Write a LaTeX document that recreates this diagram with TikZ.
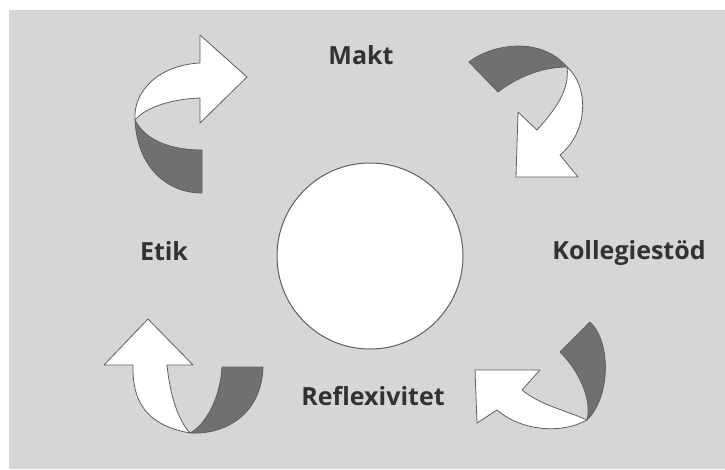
\documentclass[tikz,border=0pt]{standalone}
\usepackage{fontspec}
\setmainfont{Open Sans}
\definecolor{bggray}{RGB}{214,214,214}
\definecolor{darkpart}{RGB}{112,112,112}
\definecolor{edgegray}{RGB}{95,95,95}
\definecolor{labelgray}{RGB}{50,50,50}
\tikzset{
  lbl/.style={font=\bfseries\fontsize{25}{29}\selectfont, text=labelgray, inner sep=0pt},
  whitepart/.style={fill=white, draw=edgegray, line width=0.8pt, line join=round},
  darkribbon/.style={fill=darkpart, draw=edgegray, line width=0.8pt, line join=round},
}
\begin{document}
\begin{tikzpicture}[x=1pt,y=-1pt]
\useasboundingbox (0,0) rectangle (725,469);
\fill[white] (0,0) rectangle (725,469);
\fill[bggray] (9,10) rectangle (725,469);

% centre circle
\node[circle, draw=edgegray, line width=1pt, fill=white, minimum size=186pt, inner sep=0pt] (centre) at (370,256) {};

% labels
\node[lbl] (makt) at (361,55) {Makt};
\node[lbl] (etik) at (164,251) {Etik};
\node[lbl] (koll) at (629,253) {Kollegiestöd};
\node[lbl] (refl) at (373,396) {Reflexivitet};

% top-left arrow
\draw[darkribbon] (135,120) .. controls (137,165) and (165,193) .. (202,193) -- (202,150)
  .. controls (170,150) and (145,140) .. (135,120) -- cycle;
\draw[whitepart] (135,120) .. controls (133,90) and (160,65) .. (200,63) -- (200,35) -- (247,77)
  -- (200,123) -- (200,98) .. controls (170,99) and (145,108) .. (135,120) -- cycle;

% top-right arrow
\draw[darkribbon] (469,62) .. controls (490,45) and (540,35) .. (567,67)
  .. controls (545,67) and (520,75) .. (498,92) -- cycle;
\draw[whitepart] (567,67) .. controls (588,85) and (590,130) .. (560,155) -- (578,177) -- (516,177)
  -- (518,112) -- (537,130) .. controls (555,110) and (570,90) .. (567,67) -- cycle;

% bottom-right arrow
\draw[darkribbon] (590,322) .. controls (610,340) and (612,395) .. (587,420)
  .. controls (592,400) and (580,372) .. (560,352) -- cycle;
\draw[whitepart] (587,420) .. controls (560,435) and (520,430) .. (497,410) -- (477,423) -- (475,370)
  -- (540,370) -- (522,390) .. controls (540,405) and (565,410) .. (587,420) -- cycle;

% bottom-left arrow
\draw[darkribbon] (190,433) .. controls (230,435) and (262,410) .. (263,367) -- (222,367)
  .. controls (220,400) and (205,425) .. (190,433) -- cycle;
\draw[whitepart] (190,433) .. controls (145,425) and (132,400) .. (133,365) -- (104,365) -- (148,319)
  -- (193,365) -- (167,365) .. controls (170,395) and (178,420) .. (190,433) -- cycle;
\end{tikzpicture}
\end{document}
